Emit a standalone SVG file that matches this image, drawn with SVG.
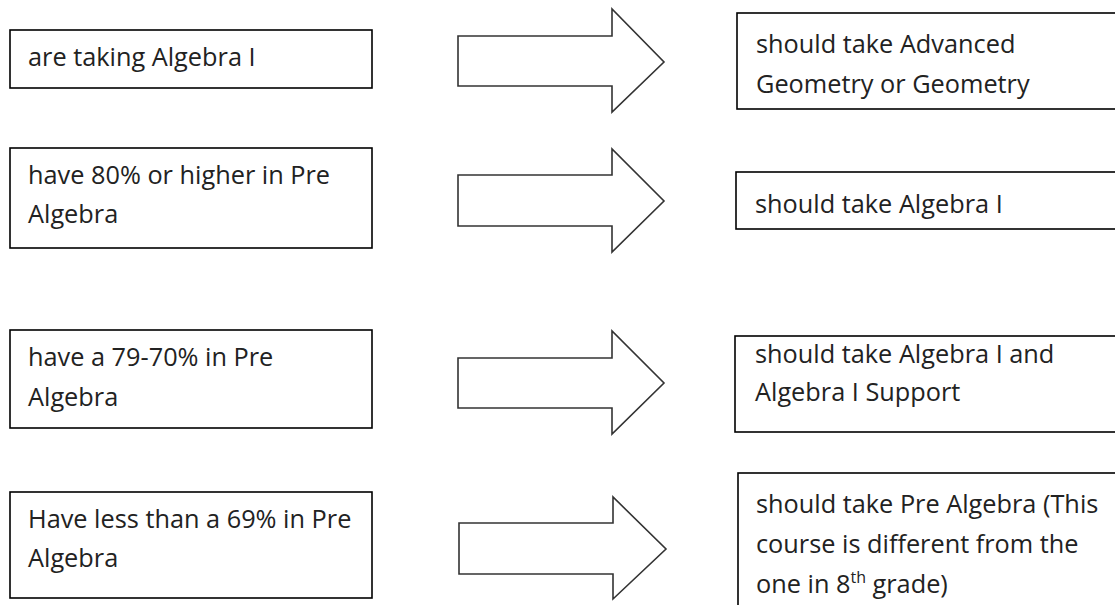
<svg xmlns="http://www.w3.org/2000/svg" width="1115" height="605" viewBox="0 0 1115 605">
<style>
.box{fill:#fff;stroke:#000;stroke-width:1.6}
.arr{fill:#fff;stroke:#333;stroke-width:1.6;stroke-linejoin:miter}
text{font-family:"Open Sans",Lato,sans-serif;font-size:25.3px;fill:#222}
</style>
<rect width="1115" height="605" fill="#fff"/>
<g id="connectors">
<path class="arr" d="M458,36 H612 V9 L664,62 L612,112 V86 H458 Z"/>
<path class="arr" d="M458,175 H612 V149 L664,201 L612,252 V226 H458 Z"/>
<path class="arr" d="M458,358 H612 V331 L664,383 L612,434 V408 H458 Z"/>
<path class="arr" d="M459,523 H613 V497 L666,549 L613,599 V574 H459 Z"/>
</g>
<g id="cond1"><rect class="box" x="10" y="30" width="362" height="58"/><text x="28" y="66">are taking Algebra I</text></g>
<g id="cond2"><rect class="box" x="10" y="148" width="362" height="100"/><text x="28" y="184">have 80% or higher in Pre</text><text x="28" y="223">Algebra</text></g>
<g id="cond3"><rect class="box" x="10" y="330" width="362" height="98"/><text x="28" y="366">have a 79-70% in Pre</text><text x="28" y="406">Algebra</text></g>
<g id="cond4"><rect class="box" x="10" y="492" width="362" height="106"/><text x="28" y="528">Have less than a 69% in Pre</text><text x="28" y="567">Algebra</text></g>
<g id="res1"><rect class="box" x="737" y="13" width="400" height="96"/><text x="756" y="53">should take Advanced</text><text x="756" y="93">Geometry or Geometry</text></g>
<g id="res2"><rect class="box" x="736" y="172" width="400" height="57"/><text x="755" y="213">should take Algebra I</text></g>
<g id="res3"><rect class="box" x="735" y="336" width="400" height="96"/><text x="755" y="363">should take Algebra I and</text><text x="755" y="401">Algebra I Support</text></g>
<g id="res4"><rect class="box" x="738" y="473" width="400" height="160"/><text x="756" y="513">should take Pre Algebra (This</text><text x="756" y="553">course is different from the</text><text x="756" y="593">one in 8<tspan font-size="16" dy="-10">th</tspan><tspan dy="10"> grade)</tspan></text></g>
</svg>
